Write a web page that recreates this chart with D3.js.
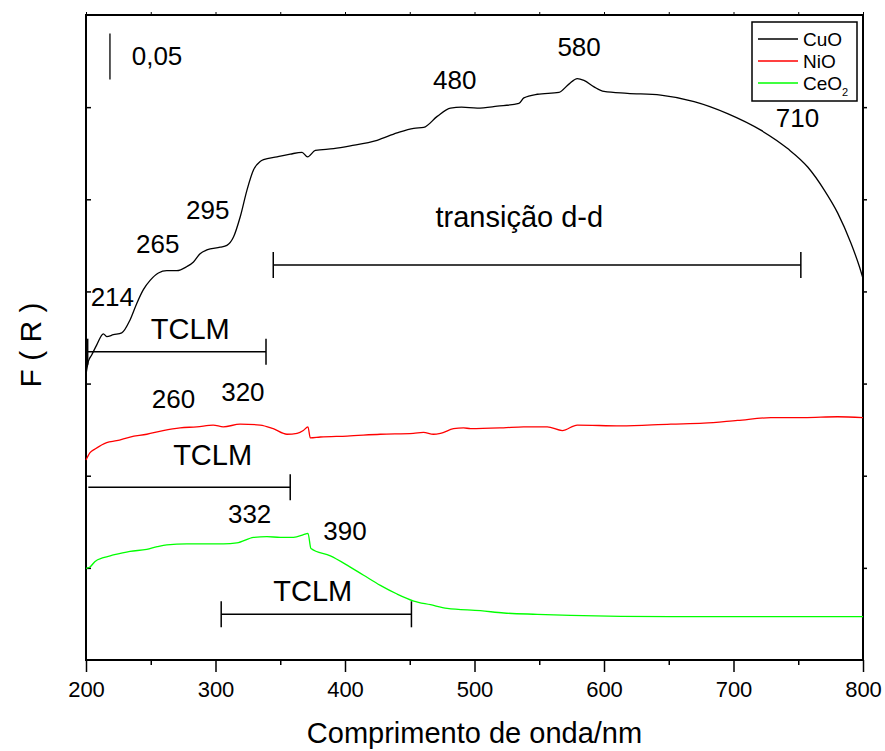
<!DOCTYPE html>
<html>
<head>
<meta charset="utf-8">
<script src="https://cdn.jsdelivr.net/npm/d3@7"></script>
<style>
  html, body { margin: 0; padding: 0; background: #fff; }
  text { font-family: 'Liberation Sans', Arial, sans-serif; fill: #000; }
</style>
</head>
<body>
<div id="chart"></div>
<script>

// ━━━━━━━━━━━━━━━━━━━━━━━━━━━━━━━━━━━━━━━━━━━━━━━━━━━━━━━━━━━━━━━━━━━━━━━━━━━━━━━━━━━━
// Datos: [comprimento de onda (nm), F(R) desplazado] //////////////////////////////////
// ━━━━━━━━━━━━━━━━━━━━━━━━━━━━━━━━━━━━━━━━━━━━━━━━━━━━━━━━━━━━━━━━━━━━━━━━━━━━━━━━━━━━

const cuo_data = [
  [200, 0.310], [201.8, 0.324], [204.4, 0.331], [208.3, 0.342], [213.4, 0.354], [216, 0.351],
  [221.1, 0.353], [227.6, 0.355], [234, 0.369], [239.2, 0.387], [244.3, 0.402], [249.5, 0.412],
  [255.9, 0.420], [262.4, 0.4225], [270.1, 0.4225], [277.9, 0.427], [283, 0.432], [288.1, 0.441],
  [293.3, 0.445], [303.6, 0.448], [308.8, 0.450], [313.9, 0.459], [319.1, 0.481], [324.3, 0.510],
  [329.4, 0.532], [334.5, 0.541], [337.1, 0.543], [347.5, 0.546], [357.7, 0.549], [366.8, 0.551],
  [371.1, 0.546], [377.1, 0.553], [391.2, 0.555], [404.1, 0.558], [424.8, 0.564], [440.2, 0.572],
  [453.1, 0.577], [460.8, 0.578], [471.2, 0.590], [481.5, 0.599], [490, 0.600], [502.1, 0.599],
  [517.6, 0.601], [534.3, 0.604], [538.1, 0.610], [548.5, 0.614], [565.2, 0.616], [572.9, 0.625],
  [579.4, 0.631], [584.5, 0.629], [592.3, 0.622], [600, 0.617], [618.1, 0.615], [643.8, 0.613],
  [669.6, 0.606], [695.4, 0.593], [721.1, 0.575], [741.8, 0.555], [757.3, 0.535], [770.1, 0.510],
  [780.5, 0.485], [790.8, 0.452], [797.2, 0.427], [800, 0.414]
];

const nio_data = [
  [200, 0.217], [203.1, 0.225], [207, 0.229], [216, 0.236], [223.7, 0.238], [234, 0.242],
  [247, 0.245], [259.5, 0.249], [272.7, 0.252], [285.6, 0.253], [298.2, 0.255], [306, 0.253],
  [319, 0.256], [334.5, 0.255], [344.6, 0.251], [355.2, 0.245], [363, 0.246], [367.8, 0.249],
  [371.4, 0.253], [373.2, 0.241], [381, 0.242], [401.6, 0.243], [427.3, 0.245], [452.8, 0.246],
  [460.6, 0.247], [468.3, 0.245], [473.7, 0.246], [483.8, 0.251], [491.5, 0.252], [497, 0.251],
  [522.4, 0.252], [537.9, 0.253], [556.2, 0.253], [567.8, 0.249], [579.4, 0.255],
  [612.9, 0.254], [651.6, 0.256], [677, 0.257], [703.1, 0.260], [728.9, 0.263], [754.4, 0.263],
  [780.4, 0.264], [800, 0.263]
];

const ceo2_data = [
  [200, 0.0995], [203.1, 0.101], [207, 0.107], [213.4, 0.111], [221.1, 0.114], [234, 0.118],
  [246.9, 0.120], [255, 0.123], [262.4, 0.125], [277.9, 0.126], [293.3, 0.126], [306.2, 0.126],
  [316.5, 0.127], [329.4, 0.133], [339.7, 0.134], [350, 0.133], [360.3, 0.133], [368, 0.136],
  [371.4, 0.1375], [373.7, 0.121], [388.7, 0.113], [401.6, 0.103], [414.4, 0.092], [427.3, 0.081],
  [440.2, 0.0716], [453.1, 0.064], [466, 0.060], [478.9, 0.056], [504.6, 0.0535], [522.7, 0.051],
  [548.5, 0.0496], [574.2, 0.0485], [612.9, 0.0474], [651.6, 0.047], [703.1, 0.047], [754.6, 0.047],
  [800, 0.047]
];

const series_names  = ['CuO', 'NiO', 'CeO'];
const series_colors = ['#000000', '#ff0000', '#00ff00'];

const x_ticks_major = [200, 300, 400, 500, 600, 700, 800];
const x_ticks_minor = [250, 350, 450, 550, 650, 750];
const y_ticks       = [0.1, 0.2, 0.3, 0.4, 0.5, 0.6];

// etiquetas de bandas: [texto, nm, F(R)]
const band_labels = [
  ['580', 564, 0.656], ['480', 468, 0.620], ['710', 732.7, 0.578],
  ['transição d-d', 469.9, 0.470],
  ['295', 277.3, 0.479], ['265', 238.7, 0.442], ['214', 203.6, 0.384],
  ['TCLM', 250, 0.348],
  ['260', 250.8, 0.273], ['320', 304.4, 0.281], ['TCLM', 267.3, 0.212],
  ['332', 309.6, 0.149], ['390', 383.3, 0.130], ['TCLM', 344.6, 0.064]
];

// intervalos: [nm inicio, nm fin, F(R), cap izquierdo]
const band_ranges = [
  [344.6, 752, 0.4287, true],
  [201.3, 339, 0.3346, true],
  [201.8, 357.7, 0.1874, false],
  [304.4, 451.3, 0.0496, true]
];

// barra de escala 0,05
const scale_bar = { nm: 218.5, from: 0.630, to: 0.680, label: '0,05', label_nm: 235.3, label_v: 0.646 };

// ━━━━━━━━━━━━━━━━━━━━━━━━━━━━━━━━━━━━━━━━━━━━━━━━━━━━━━━━━━━━━━━━━━━━━━━━━━━━━━━━━━━━
// SVG setup ////////////////////////////////////////////////////////////////////////////
// ━━━━━━━━━━━━━━━━━━━━━━━━━━━━━━━━━━━━━━━━━━━━━━━━━━━━━━━━━━━━━━━━━━━━━━━━━━━━━━━━━━━━

const width = 885, height = 751;
const margin = { top: 15, right: 22, bottom: 91, left: 86 };

const svg = d3.select('#chart').append('svg')
  .attr('viewBox', [0, 0, width, height])
  .attr('width', width)
  .attr('height', height);

const x = d3.scaleLinear().domain([200, 800]).range([margin.left, width - margin.right]);
const y = d3.scaleLinear().domain([0, 0.7]).range([height - margin.bottom, margin.top]);

const   axes = svg.append('g').attr('id', 'axes');
const curves = svg.append('g').attr('id', 'curves');
const extras = svg.append('g').attr('id', 'extras');
const legend = svg.append('g').attr('id', 'legend');

// ━━━━━━━━━━━━━━━━━━━━━━━━━━━━━━━━━━━━━━━━━━━━━━━━━━━━━━━━━━━━━━━━━━━━━━━━━━━━━━━━━━━━
// Ejes /////////////////////////////////////////////////////////////////////////////////
// ━━━━━━━━━━━━━━━━━━━━━━━━━━━━━━━━━━━━━━━━━━━━━━━━━━━━━━━━━━━━━━━━━━━━━━━━━━━━━━━━━━━━

  const x_axis = axes.append('g')
    .attr('transform', `translate(0,${y(0)})`)
    .call(d3.axisBottom(x).tickValues(x_ticks_major).tickSize(12).tickSizeOuter(0).tickPadding(9).tickFormat(d3.format('d')));
  x_axis.select('.domain').remove();
  x_axis.selectAll('line').attr('stroke-width', 1.5);
  x_axis.selectAll('text').attr('font-size', 22).attr('font-family', "'Liberation Sans', Arial, sans-serif");

  const x_minor = axes.append('g')
    .attr('transform', `translate(0,${y(0)})`)
    .call(d3.axisBottom(x).tickValues(x_ticks_minor).tickSize(5).tickFormat(''));
  x_minor.select('.domain').remove();
  x_minor.selectAll('line').attr('stroke-width', 1.5);

  const x_top = axes.append('g')
    .attr('transform', `translate(0,${y(0.7)})`)
    .call(d3.axisTop(x).tickValues(x_ticks_major.concat(x_ticks_minor)).tickSize(3).tickFormat(''));
  x_top.select('.domain').remove();
  x_top.selectAll('line').attr('stroke-width', 1);

  const y_left = axes.append('g')
    .attr('transform', `translate(${x(200)},0)`)
    .call(d3.axisRight(y).tickValues(y_ticks).tickSize(5).tickFormat(''));
  y_left.select('.domain').remove();
  y_left.selectAll('line').attr('stroke-width', 1.5);

  const y_right = axes.append('g')
    .attr('transform', `translate(${x(800)},0)`)
    .call(d3.axisRight(y).tickValues(y_ticks).tickSize(4).tickFormat(''));
  y_right.select('.domain').remove();
  y_right.selectAll('line').attr('stroke-width', 1.5);

  axes.append('rect')
    .attr('x', x(200)).attr('y', y(0.7))
    .attr('width', x(800) - x(200)).attr('height', y(0) - y(0.7))
    .attr('fill', 'none').attr('stroke', '#000').attr('stroke-width', 2);

  axes.append('text')
    .attr('x', (x(200) + x(800)) / 2).attr('y', 743)
    .attr('text-anchor', 'middle').attr('font-size', 29)
    .text('Comprimento de onda/nm');

  axes.append('text')
    .attr('transform', `translate(41,345) rotate(-90)`)
    .attr('text-anchor', 'middle').attr('font-size', 30)
    .text('F ( R )');

// ━━━━━━━━━━━━━━━━━━━━━━━━━━━━━━━━━━━━━━━━━━━━━━━━━━━━━━━━━━━━━━━━━━━━━━━━━━━━━━━━━━━━
// Curvas ///////////////////////////////////////////////////////////////////////////////
// ━━━━━━━━━━━━━━━━━━━━━━━━━━━━━━━━━━━━━━━━━━━━━━━━━━━━━━━━━━━━━━━━━━━━━━━━━━━━━━━━━━━━

  const line = d3.line().x(d => x(d[0])).y(d => y(d[1])).curve(d3.curveMonotoneX);

  curves.selectAll('path')
    .data([cuo_data, nio_data, ceo2_data])
    .join('path')
    .attr('d', line)
    .attr('fill', 'none')
    .attr('stroke', (_, i) => series_colors[i])
    .attr('stroke-width', 1.3);

// ━━━━━━━━━━━━━━━━━━━━━━━━━━━━━━━━━━━━━━━━━━━━━━━━━━━━━━━━━━━━━━━━━━━━━━━━━━━━━━━━━━━━
// Anotaciones //////////////////////////////////////////////////////////////////////////
// ━━━━━━━━━━━━━━━━━━━━━━━━━━━━━━━━━━━━━━━━━━━━━━━━━━━━━━━━━━━━━━━━━━━━━━━━━━━━━━━━━━━━

  extras.append('line')
    .attr('x1', x(scale_bar.nm)).attr('x2', x(scale_bar.nm))
    .attr('y1', y(scale_bar.from)).attr('y2', y(scale_bar.to))
    .attr('stroke', '#000').attr('stroke-width', 1.3);
  extras.append('text')
    .attr('x', x(scale_bar.label_nm)).attr('y', y(scale_bar.label_v))
    .attr('font-size', 26).text(scale_bar.label);

  // los números a 26px, las palabras algo más anchas (29px)
  extras.selectAll('text.band')
    .data(band_labels)
    .join('text')
    .attr('class', 'band')
    .attr('x', d => x(d[1]))
    .attr('y', d => y(d[2]))
    .attr('font-size', d => isNaN(+d[0]) ? 29 : 26)
    .text(d => d[0]);

  const cap = 13;
  const ranges = extras.selectAll('g.range')
    .data(band_ranges)
    .join('g')
    .attr('class', 'range')
    .attr('stroke', '#000')
    .attr('stroke-width', 1.5);

  ranges.append('line')
    .attr('x1', d => x(d[0])).attr('x2', d => x(d[1]))
    .attr('y1', d => y(d[2])).attr('y2', d => y(d[2]));
  ranges.append('line')
    .attr('x1', d => x(d[1])).attr('x2', d => x(d[1]))
    .attr('y1', d => y(d[2]) - cap).attr('y2', d => y(d[2]) + cap);
  ranges.filter(d => d[3]).append('line')
    .attr('x1', d => x(d[0])).attr('x2', d => x(d[0]))
    .attr('y1', d => y(d[2]) - cap).attr('y2', d => y(d[2]) + cap);

// ━━━━━━━━━━━━━━━━━━━━━━━━━━━━━━━━━━━━━━━━━━━━━━━━━━━━━━━━━━━━━━━━━━━━━━━━━━━━━━━━━━━━
// Leyenda //////////////////////////////////////////////////////////////////////////////
// ━━━━━━━━━━━━━━━━━━━━━━━━━━━━━━━━━━━━━━━━━━━━━━━━━━━━━━━━━━━━━━━━━━━━━━━━━━━━━━━━━━━━

  legend.append('rect')
    .attr('x', 752).attr('y', 22).attr('width', 105).attr('height', 79)
    .attr('fill', '#fff').attr('stroke', '#000').attr('stroke-width', 1.5);

  const rows = legend.selectAll('g.row')
    .data(series_names)
    .join('g')
    .attr('class', 'row')
    .attr('transform', (_, i) => `translate(0,${39 + i * 22})`);

  rows.append('line')
    .attr('x1', 758).attr('x2', 798)
    .attr('stroke', (_, i) => series_colors[i]).attr('stroke-width', 1.3);

  const labels = rows.append('text')
    .attr('x', 803).attr('y', 7)
    .attr('font-size', 19)
    .text(d => d);
  labels.filter((_, i) => i === 2).append('tspan')
    .attr('font-size', 11).attr('dy', 6).text('2');

</script>
</body>
</html>
